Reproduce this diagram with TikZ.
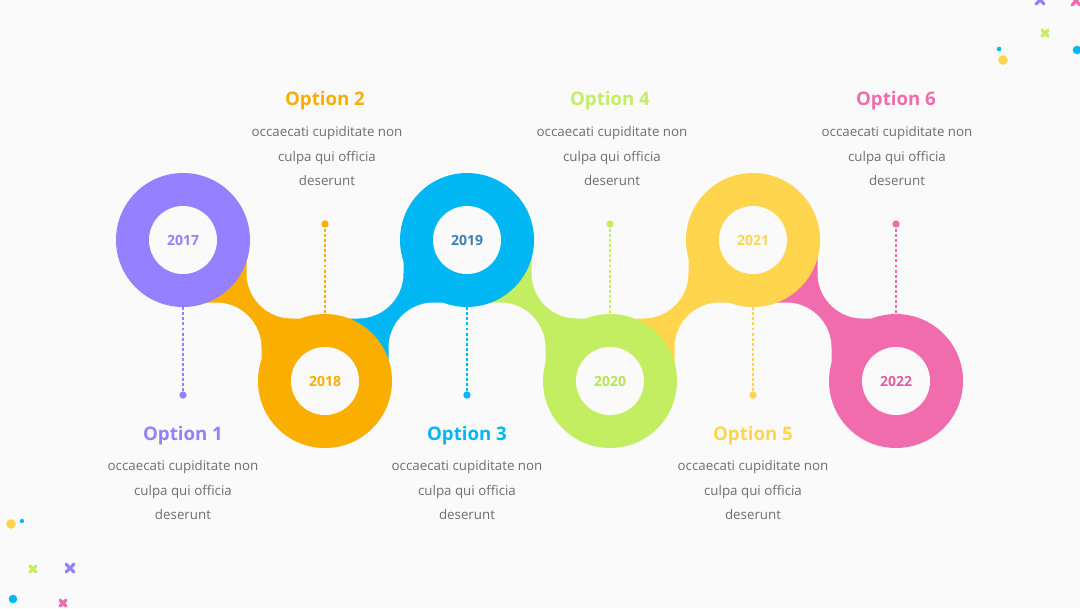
\documentclass[tikz,border=0pt]{standalone}
\usepackage{fontspec}
\setmainfont{Open Sans}
\definecolor{bg}{HTML}{FAFAFA}
\definecolor{cpur}{HTML}{9580FF}
\definecolor{corg}{HTML}{F9AE00}
\definecolor{cblu}{HTML}{00B7F4}
\definecolor{cgrn}{HTML}{C4EE62}
\definecolor{cyel}{HTML}{FFD54E}
\definecolor{cpnk}{HTML}{F06CAD}
\definecolor{tblu}{HTML}{3A7FB8}
\definecolor{tpnk}{HTML}{E0609F}
\definecolor{tgrn}{HTML}{B8E455}
\definecolor{txt}{HTML}{6E6E6E}
\begin{document}
\begin{tikzpicture}[x=0.75pt,y=-0.75pt,
  ring/.style={circle, inner sep=0pt, minimum size=100.5pt, fill=#1},
  hole/.style={circle, inner sep=0pt, minimum size=51pt, fill=bg, text=#1,
    font=\bfseries\fontsize{10.5}{12}\selectfont},
  gap/.style={rectangle, rounded corners=34pt, inner sep=0pt, minimum size=117.75pt, fill=bg},
  pin/.style={circle, inner sep=0pt, minimum size=5.5pt, fill=#1},
  lead/.style={draw=#1, dash pattern=on 2.2pt off 1.6pt, line width=0.8pt},
  ttl/.style={font=\bfseries\fontsize{14}{16}\selectfont, text=#1, inner sep=0pt},
  body/.style={align=center, text=txt, font=\fontsize{10}{18.4}\selectfont, inner sep=0pt},
  spark/.style={line width=2.4pt, line cap=round, draw=#1},
]
% background / bounding box
\fill[bg] (0,0) rectangle (1080,608);
\useasboundingbox (0,0) rectangle (1080,608);

% centres
\coordinate (p1) at (183,240);
\coordinate (p2) at (325,381);
\coordinate (p3) at (467,240);
\coordinate (p4) at (610,381);
\coordinate (p5) at (753,240);
\coordinate (p6) at (896,381);

% necks
\fill[corg] (p1) rectangle (p2);
\fill[cblu] (p2) rectangle (p3);
\fill[cgrn] (p3) rectangle (p4);
\fill[cyel] (p4) rectangle (p5);
\fill[cpnk] (p5) rectangle (p6);

% gaps
\node[gap] (g1) at (183,381) {};
\node[gap] (g2) at (325,240) {};
\node[gap] (g3) at (467,381) {};
\node[gap] (g4) at (610,240) {};
\node[gap] (g5) at (753,381) {};
\node[gap] (g6) at (896,240) {};

% rings
\node[ring=cpur] (c1) at (p1) {};
\node[ring=corg] (c2) at (p2) {};
\node[ring=cblu] (c3) at (p3) {};
\node[ring=cgrn] (c4) at (p4) {};
\node[ring=cyel] (c5) at (p5) {};
\node[ring=cpnk] (c6) at (p6) {};

\node[hole=cpur] (y1) at (p1) {2017};
\node[hole=corg] (y2) at (p2) {2018};
\node[hole=tblu] (y3) at (p3) {2019};
\node[hole=tgrn] (y4) at (p4) {2020};
\node[hole=cyel] (y5) at (p5) {2021};
\node[hole=tpnk] (y6) at (p6) {2022};

% pins and leaders
\node[pin=cpur] (d1) at (183,395) {};
\node[pin=corg] (d2) at (325,224) {};
\node[pin=cblu] (d3) at (467,395) {};
\node[pin=cgrn] (d4) at (610,224) {};
\node[pin=cyel] (d5) at (753,395) {};
\node[pin=cpnk] (d6) at (896,224) {};
\draw[lead=cpur] (c1.south) -- (d1.center);
\draw[lead=corg] (d2.center) -- (c2.north);
\draw[lead=cblu] (c3.south) -- (d3.center);
\draw[lead=cgrn] (d4.center) -- (c4.north);
\draw[lead=cyel] (c5.south) -- (d5.center);
\draw[lead=cpnk] (d6.center) -- (c6.north);

% titles
\node[ttl=cpur] (t1) at (183,436) {Option 1};
\node[ttl=corg] (t2) at (325,101) {Option 2};
\node[ttl=cblu] (t3) at (467,436) {Option 3};
\node[ttl=cgrn] (t4) at (610,101) {Option 4};
\node[ttl=cyel] (t5) at (753,436) {Option 5};
\node[ttl=cpnk] (t6) at (896,101) {Option 6};

% bodies
\node[body] (b1) at (183,490) {occaecati cupiditate non\\culpa qui officia\\deserunt};
\node[body] (b2) at (327,156) {occaecati cupiditate non\\culpa qui officia\\deserunt};
\node[body] (b3) at (467,490) {occaecati cupiditate non\\culpa qui officia\\deserunt};
\node[body] (b4) at (612,156) {occaecati cupiditate non\\culpa qui officia\\deserunt};
\node[body] (b5) at (753,490) {occaecati cupiditate non\\culpa qui officia\\deserunt};
\node[body] (b6) at (897,156) {occaecati cupiditate non\\culpa qui officia\\deserunt};

% decorations top right
\draw[spark=cpur] (1036,-4) -- (1044,4) (1036,4) -- (1044,-4);
\draw[spark=cpnk] (1072,-3) -- (1080,5) (1072,5) -- (1080,-3);
\draw[spark=cgrn] (1042,30) -- (1048,36) (1042,36) -- (1048,30);
\fill[cblu] (999,49) circle[radius=1.7pt];
\fill[cyel] (1003,60) circle[radius=3.6pt];
\fill[cblu] (1077,50) circle[radius=3.2pt];

% decorations bottom left
\fill[cyel] (11,524) circle[radius=3.6pt];
\fill[cblu] (22,521) circle[radius=1.6pt];
\draw[spark=cgrn] (30,566) -- (36,572) (30,572) -- (36,566);
\draw[spark=cpur] (66,564) -- (74,572) (66,572) -- (74,564);
\fill[cblu] (13,599) circle[radius=3.2pt];
\draw[spark=cpnk] (60,600) -- (66,606) (60,606) -- (66,600);
\end{tikzpicture}
\end{document}
